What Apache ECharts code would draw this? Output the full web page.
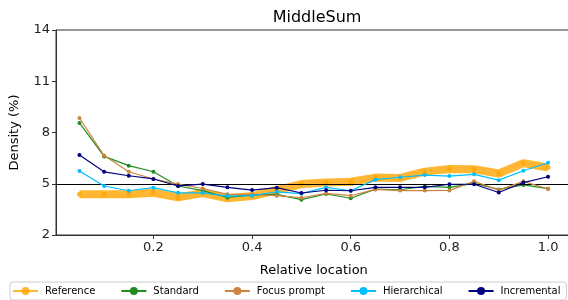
<!DOCTYPE html>
<html><head><meta charset="utf-8">
<script src="https://cdn.jsdelivr.net/npm/echarts@6/dist/echarts.min.js"></script>
<style>html,body{margin:0;padding:0;background:#fff;overflow:hidden;width:568px;height:300px}#c{width:620px;height:300px}</style>
</head><body><div id="c"></div>
<script>
const xValues = [0.05,0.10,0.15,0.20,0.25,0.30,0.35,0.40,0.45,0.50,0.55,0.60,0.65,0.70,0.75,0.80,0.85,0.90,0.95,1.00];
const referenceVals    = [4.38,4.38,4.38,4.47,4.20,4.45,4.15,4.28,4.62,4.98,5.07,5.12,5.36,5.34,5.71,5.86,5.85,5.60,6.21,5.95];
const standardVals     = [8.56,6.60,6.06,5.70,4.87,4.60,4.20,4.35,4.38,4.07,4.40,4.15,4.68,4.65,4.85,4.79,5.02,4.67,4.93,4.71];
const focusVals        = [8.85,6.65,5.70,5.28,4.98,4.72,4.38,4.38,4.30,4.18,4.44,4.30,4.67,4.60,4.60,4.61,5.14,4.63,5.14,4.69];
const hierarchicalVals = [5.74,4.87,4.59,4.77,4.47,4.47,4.28,4.30,4.53,4.42,4.79,4.59,5.24,5.38,5.51,5.45,5.55,5.21,5.76,6.23];
const incrementalVals  = [6.68,5.70,5.47,5.28,4.87,4.98,4.79,4.63,4.77,4.46,4.62,4.59,4.79,4.79,4.79,4.97,4.97,4.49,5.07,5.41];
const xTickValues = [0.2,0.4,0.6,0.8,1.0];
const yTickValues = [2,5,8,11,14];
const baselineValue = 5;

const pairs = v => xValues.map((x,i)=>[x, v[i]]);
const font = 'DejaVu Sans';
const chart = echarts.init(document.getElementById('c'), null, {renderer:'canvas', width:620, height:300});
function lineSeries(name, vals, color, z){
  return {name, type:'line', data:pairs(vals), z, symbol:'circle', symbolSize:4,
    lineStyle:{color, width:1.2}, itemStyle:{color}, emphasis:{disabled:true}, animation:false};
}
chart.setOption({
  animation:false,
  title:{text:'MiddleSum', left:312, top:5, textAlign:'center',
    textStyle:{fontFamily:font, fontSize:16, fontWeight:'normal', color:'#000'}},
  grid:{left:53, top:30, width:518.5, height:205, show:true, borderColor:'#333', borderWidth:1, containLabel:false},
  xAxis:{type:'value', min:0.0025, max:1.0475, name:'Relative location', nameLocation:'middle', nameGap:29,
    nameTextStyle:{fontFamily:font, fontSize:13, color:'#000'},
    axisLine:{show:true, lineStyle:{color:'#333', width:1}},
    axisTick:{show:true, length:4, lineStyle:{color:'#333'}, customValues:xTickValues},
    axisLabel:{fontFamily:font, fontSize:13, color:'#222', margin:6, customValues:xTickValues,
      formatter:v=>Number(v).toFixed(1)},
    splitLine:{show:false}},
  yAxis:{type:'value', min:2, max:14, interval:3, name:'Density (%)', nameLocation:'middle', nameGap:35,
    nameTextStyle:{fontFamily:font, fontSize:13, color:'#000'},
    axisLine:{show:true, lineStyle:{color:'#333', width:1}},
    axisTick:{show:true, length:4, lineStyle:{color:'#333'}},
    axisLabel:{fontFamily:font, fontSize:13, color:'#222', margin:6},
    splitLine:{show:false}},
  legend:{left:10, top:282, padding:[4,6,4,2], itemGap:25, itemWidth:25, itemHeight:10,
    borderColor:'#ccc', borderWidth:1, borderRadius:3,
    textStyle:{fontFamily:font, fontSize:10, color:'#000', padding:[0,0,0,2]},
    data:['Reference','Standard','Focus prompt','Hierarchical','Incremental']},
  series:[
    {name:'Reference', type:'line', data:pairs(referenceVals), z:2, symbol:'circle', symbolSize:5,
      lineStyle:{color:'#FFA500', width:8, opacity:0.8}, itemStyle:{color:'#FFA500', opacity:0.8},
      emphasis:{disabled:true}},
    {name:'baseline', type:'line', data:[], z:3,
      markLine:{silent:true, symbol:'none', label:{show:false}, lineStyle:{color:'#000', width:1.2, type:'solid'},
        data:[{yAxis:baselineValue}]}},
    lineSeries('Standard', standardVals, '#228B22', 4),
    lineSeries('Focus prompt', focusVals, '#CD853F', 5),
    lineSeries('Hierarchical', hierarchicalVals, '#00BFFF', 6),
    lineSeries('Incremental', incrementalVals, '#000080', 7)
  ]
});
</script></body></html>
